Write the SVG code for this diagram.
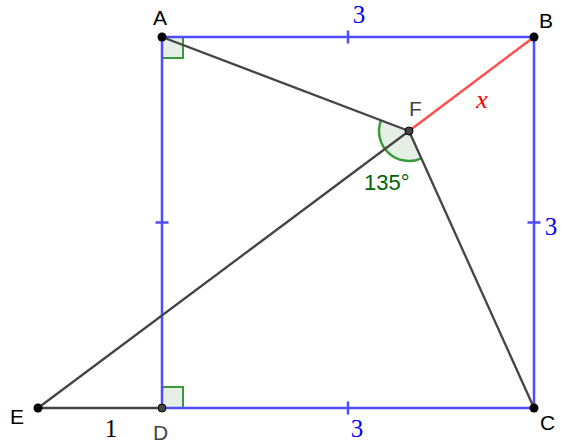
<svg xmlns="http://www.w3.org/2000/svg" width="567" height="446" viewBox="0 0 567 446">
<style>
.sq{stroke:#3a9a3a;stroke-width:2;fill:#e6efe6}
.blue{stroke:#4d4dff;stroke-width:2.5;fill:none}
.gray{stroke:#444;stroke-width:2.3;fill:none}
.red{stroke:#ff4d4d;stroke-width:2.5;fill:none}
.pt{fill:#000}
.pt2{fill:#444;stroke:#000;stroke-width:1}
.lbl{font-family:"Liberation Sans",Arial,sans-serif;font-size:21px;fill:#000}
.lbl2{font-family:"Liberation Sans",Arial,sans-serif;font-size:21px;fill:#444}
.num{font-family:"Liberation Serif","Times New Roman",serif;font-size:25px;fill:#0000ff}
</style>
<rect width="567" height="446" fill="#fff"/>
<g id="angles">
<rect class="sq" x="162" y="37" width="21" height="21"/>
<rect class="sq" x="162" y="387" width="21" height="21"/>
<path d="M409 131 L421.34 158.34 A30 30 0 0 1 380.96 120.33 Z" fill="#e6efe6" stroke="none"/>
<path d="M421.34 158.34 A30 30 0 0 1 380.96 120.33" fill="none" stroke="#3a9a3a" stroke-width="2.5"/>
</g>
<g id="connectors">
<line class="blue" x1="162" y1="37" x2="534" y2="37"/>
<line class="blue" x1="534" y1="37" x2="534" y2="408"/>
<line class="blue" x1="534" y1="408" x2="162" y2="408"/>
<line class="blue" x1="162" y1="408" x2="162" y2="37"/>
<line class="blue" x1="348" y1="30.5" x2="348" y2="43.5"/>
<line class="blue" x1="348" y1="401.5" x2="348" y2="414.5"/>
<line class="blue" x1="155.5" y1="222.5" x2="168.5" y2="222.5"/>
<line class="blue" x1="527.5" y1="222.5" x2="540.5" y2="222.5"/>
<line class="gray" x1="162" y1="37" x2="409" y2="131"/>
<line class="gray" x1="409" y1="131" x2="534" y2="408"/>
<line class="gray" x1="38" y1="408" x2="409" y2="131"/>
<line class="gray" x1="38" y1="408" x2="162" y2="408"/>
<line class="red" x1="409" y1="131" x2="534" y2="37"/>
</g>
<g id="A"><circle class="pt" cx="162" cy="37" r="4.5"/><text class="lbl" x="153" y="25">A</text></g>
<g id="B"><circle class="pt" cx="534" cy="37" r="4.5"/><text class="lbl" x="539" y="28">B</text></g>
<g id="C"><circle class="pt" cx="534" cy="408" r="4.5"/><text class="lbl" x="540" y="430">C</text></g>
<g id="D"><circle class="pt2" cx="162" cy="408" r="4"/><text class="lbl2" x="153" y="440">D</text></g>
<g id="E"><circle class="pt" cx="38" cy="408" r="4.5"/><text class="lbl" x="10" y="424">E</text></g>
<g id="F"><circle class="pt2" cx="409" cy="131" r="4"/><text class="lbl2" x="409" y="116">F</text></g>
<g id="labels">
<text class="num" x="359" y="23" text-anchor="middle">3</text>
<text class="num" x="551" y="235" text-anchor="middle">3</text>
<text class="num" x="357" y="437" text-anchor="middle">3</text>
<text x="111" y="437" text-anchor="middle" font-family="Liberation Serif,serif" font-size="25" fill="#000">1</text>
<text x="482" y="108" text-anchor="middle" font-family="Liberation Serif,serif" font-style="italic" font-size="26" fill="#ff0000">x</text>
<text x="364" y="190" font-family="Liberation Sans,Arial,sans-serif" font-size="22" fill="#006400">135°</text>
</g>
</svg>
